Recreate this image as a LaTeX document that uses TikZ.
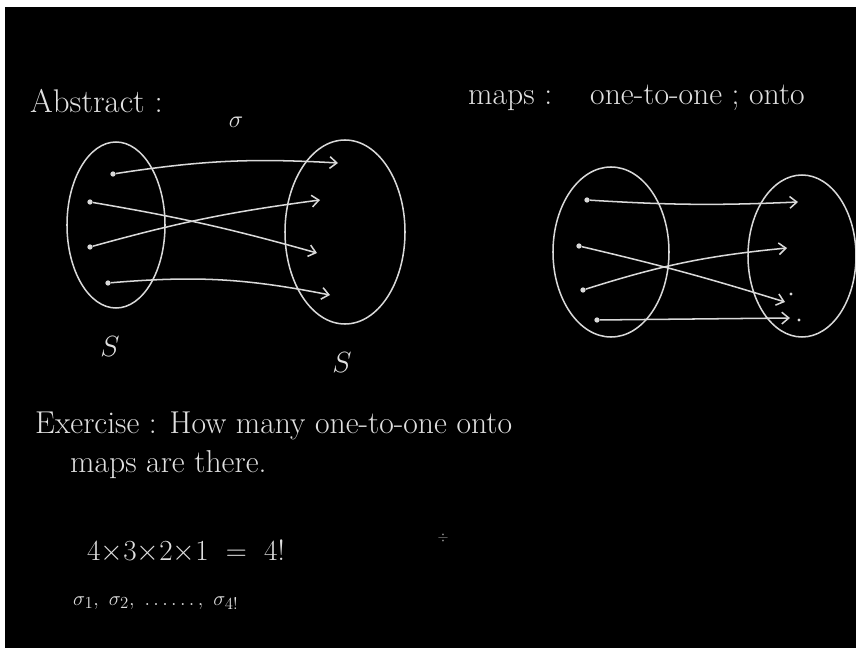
\documentclass[tikz,border=0pt]{standalone}
\usepackage{tikz}
\usetikzlibrary{arrows.meta}
\usepackage{amsmath, amssymb}

\tikzset{
  chalk/.style={draw=white!85!black, line width=1.3pt},
  pt/.style={circle, fill=white!85!black, inner sep=1.6pt},
  mapto/.style={chalk, -{Straight Barb[length=6pt,width=10pt]}},
  txt/.style={text=white!88!black, font=\fontsize{27}{30}\selectfont, anchor=base west, inner sep=0pt},
  lbl/.style={text=white!88!black, font=\fontsize{28}{30}\selectfont, inner sep=0pt},
}

\begin{document}
\begin{tikzpicture}[x=0.03cm, y=-0.03cm]

\useasboundingbox (0,0) rectangle (856,648);
\fill[white] (0,0) rectangle (856,648);
\fill[black] (5,7) rectangle (856,648);

% headings
\node[txt, font=\fontsize{28}{30}\selectfont] (abs) at (30,113) {Abstract :};
\node[txt] (maps) at (468,105) {maps :};
\node[txt] (kinds) at (590,105) {one-to-one ; onto};

% left picture: S to S
\draw[chalk] (116,225) ellipse [x radius=1.47cm, y radius=2.49cm];
\draw[chalk] (345,232) ellipse [x radius=1.80cm, y radius=2.76cm];

\node[pt] (a1) at (113,174) {};
\node[pt] (a2) at (90,202) {};
\node[pt] (a3) at (90,247) {};
\node[pt] (a4) at (108,283) {};

\coordinate (b1) at (338,163);
\coordinate (b2) at (320,200);
\coordinate (b3) at (317,253);
\coordinate (b4) at (330,295);

\draw[mapto] (a1) to[bend left=6] (b1);
\draw[mapto] (a2) to[bend left=3] (b3);
\draw[mapto] (a3) to[bend left=4] (b2);
\draw[mapto] (a4) to[bend left=8] (b4);

\node[lbl, font=\fontsize{22}{24}\selectfont] (sigma) at (236,122) {$\sigma$};
\node[lbl] (s1) at (110,347) {$S$};
\node[lbl] (s2) at (342,363) {$S$};

% right picture
\draw[chalk] (611,252) ellipse [x radius=1.74cm, y radius=2.55cm];
\draw[chalk] (802,256) ellipse [x radius=1.62cm, y radius=2.43cm];

\node[pt] (c1) at (587,200) {};
\node[pt] (c2) at (579,246) {};
\node[pt] (c3) at (583,290) {};
\node[pt] (c4) at (597,320) {};

\coordinate (d1) at (798,202);
\coordinate (d2) at (787,248);
\coordinate (d3) at (785,302);
\coordinate (d4) at (790,318);
\node[pt, inner sep=1pt] (e1) at (791,294) {};
\node[pt, inner sep=1pt] (e2) at (799,320) {};

\draw[mapto] (c1) to[bend right=3] (d1);
\draw[mapto] (c2) to[bend left=2] (d3);
\draw[mapto] (c3) to[bend left=6] (d2);
\draw[mapto] (c4) to (d4);

% exercise
\node[txt] (ex1) at (35,433) {Exercise : How many one-to-one onto};
\node[txt] (ex2) at (70,472) {maps are there.};
\node[txt, font=\fontsize{26}{28}\selectfont] (ex3) at (87,560) {$4{\times}3{\times}2{\times}1\ =\ 4!$};
\node[txt, font=\fontsize{19}{21}\selectfont] (ex4) at (73,605) {$\sigma_1,\ \sigma_2,\ \ldots\ldots,\ \sigma_{4!}$};
\node[lbl, text=white!60!black, font=\fontsize{12}{14}\selectfont] (cur) at (443,538) {$\div$};

\end{tikzpicture}
\end{document}
